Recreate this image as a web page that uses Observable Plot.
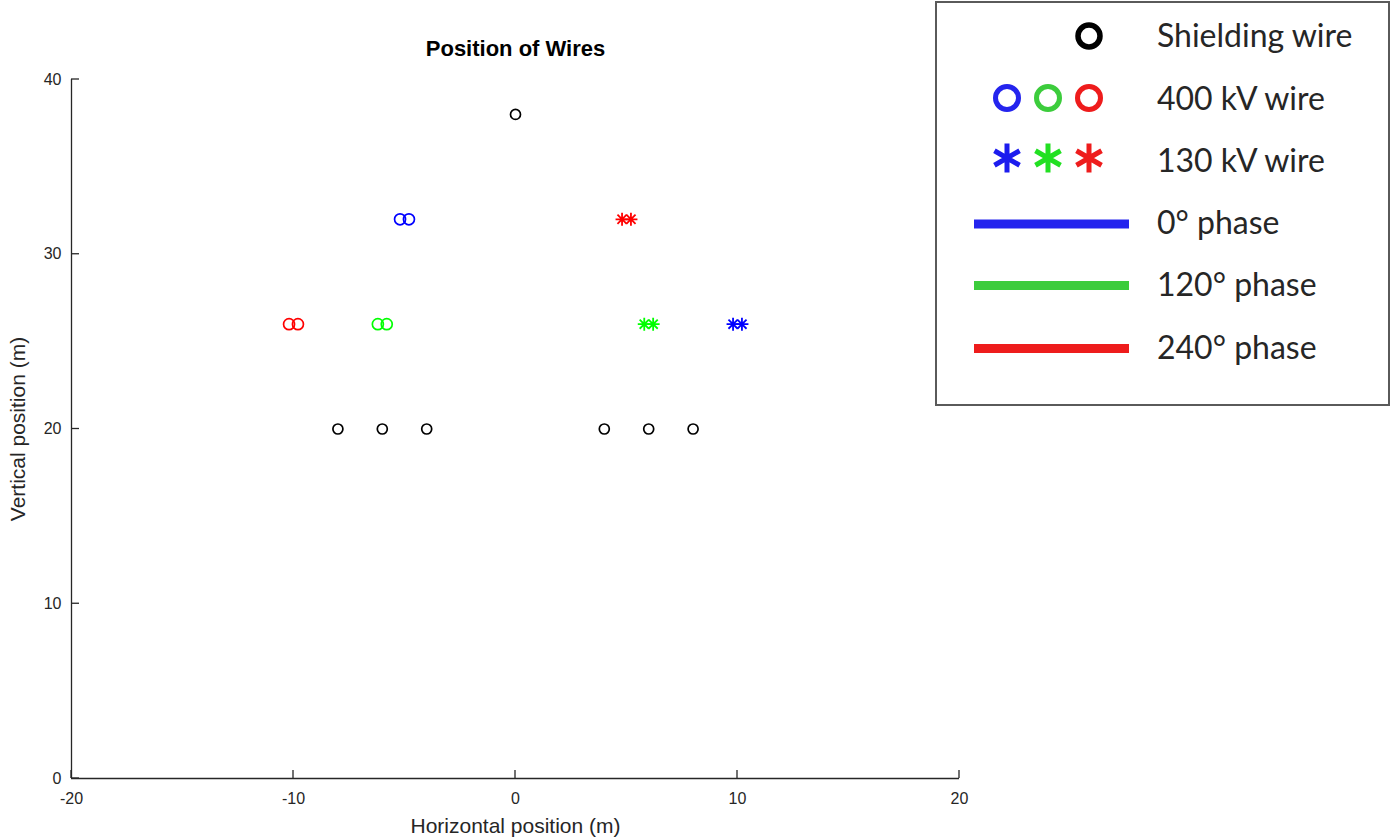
<!DOCTYPE html>
<html>
<head>
<meta charset="utf-8">
<script src="https://cdn.jsdelivr.net/npm/d3@7"></script>
<script src="https://cdn.jsdelivr.net/npm/@observablehq/plot@0.6"></script>
<style>
  html, body { margin: 0; padding: 0; background: #fff; }
  #wrap { position: relative; width: 1393px; height: 839px; overflow: hidden; }
  #legend { position: absolute; left: 935px; top: 1px; width: 451px; height: 401px;
            border: 2px solid #5a5a5a; background: #fff; }
  #legend svg { position: absolute; left: 0; top: 0; }
  .lt { font-family: Lato, "Open Sans", sans-serif; font-size: 32px; fill: #262626; }
</style>
</head>
<body>
<div id="wrap"></div>
<script>
// ---- data ----
const titleText = "Position of Wires";
const xLabel = "Horizontal position (m)";
const yLabel = "Vertical position (m)";
const xTicks = [-20, -10, 0, 10, 20];
const yTicks = [0, 10, 20, 30, 40];
const phases = ["0°", "120°", "240°"];
const phaseColors = ["#0000ff", "#00ff00", "#ff0000"];

const shieldX = [0, -8, -6, -4, 4, 6, 8];
const shieldY = [38, 20, 20, 20, 20, 20, 20];

const w400X = [-5.2, -4.8, -6.2, -5.8, -10.2, -9.8];
const w400Y = [32, 32, 26, 26, 26, 26];
const w400Phase = ["0°", "0°", "120°", "120°", "240°", "240°"];

const w130X = [9.8, 10.2, 5.8, 6.2, 4.8, 5.2];
const w130Y = [26, 26, 26, 26, 32, 32];
const w130Phase = ["0°", "0°", "120°", "120°", "240°", "240°"];

const legendLabels = ["Shielding wire", "400 kV wire", "130 kV wire", "0° phase", "120° phase", "240° phase"];

// ---- tables ----
const shield = shieldX.map((x, i) => ({x, y: shieldY[i]}));
const wires400 = w400X.map((x, i) => ({x, y: w400Y[i], phase: w400Phase[i]}));
const wires130 = w130X.map((x, i) => ({x, y: w130Y[i], phase: w130Phase[i]}));

const asterisk = {
  draw(context, size) {
    const r = Math.sqrt(size / Math.PI);
    for (const a of [0, Math.PI / 4, Math.PI / 2, 3 * Math.PI / 4]) {
      const c = Math.cos(a) * r, s = Math.sin(a) * r;
      context.moveTo(c, s);
      context.lineTo(-c, -s);
    }
  }
};

const axisColor = "#262626";
const fmt = d => String(d);

// inward tick marks drawn through the plot's own scales
function inwardTicks(index, scales) {
  const {x, y} = scales;
  const g = d3.create("svg:g").attr("stroke", axisColor).attr("stroke-width", 1.3);
  const [x0] = x.domain ? x.domain() : [-20];
  for (const v of xTicks) {
    g.append("line").attr("x1", x(v)).attr("x2", x(v)).attr("y1", y(yTicks[0])).attr("y2", y(yTicks[0]) - 8);
  }
  for (const v of yTicks) {
    g.append("line").attr("y1", y(v)).attr("y2", y(v)).attr("x1", x(xTicks[0])).attr("x2", x(xTicks[0]) + 8);
  }
  return g.node();
}

const chart = Plot.plot({
  width: 1393,
  height: 839,
  marginLeft: 71,
  marginRight: 434,
  marginTop: 79,
  marginBottom: 61,
  style: {fontFamily: '"Liberation Sans", Arial, sans-serif', fontSize: "16px", color: axisColor, background: "#fff"},
  x: {domain: [-20, 20], ticks: xTicks, label: null},
  y: {domain: [0, 40], ticks: yTicks, label: null},
  color: {domain: phases, range: phaseColors},
  marks: [
    Plot.ruleY([0], {stroke: axisColor, strokeWidth: 1.3}),
    Plot.ruleX([-20], {stroke: axisColor, strokeWidth: 1.3}),
    inwardTicks,
    Plot.axisX({ticks: xTicks, tickSize: 0, tickPadding: 14, tickFormat: fmt, fill: axisColor, fontSize: 16, label: null}),
    Plot.axisY({ticks: yTicks, tickSize: 0, tickPadding: 10, tickFormat: fmt, fill: axisColor, fontSize: 16, label: null}),
    Plot.text([titleText], {frameAnchor: "top", lineAnchor: "middle", dy: -31, fontWeight: "bold", fontSize: 22, fill: "#000"}),
    Plot.text([xLabel], {frameAnchor: "bottom", lineAnchor: "middle", dy: 48, fontSize: 21, fill: axisColor}),
    Plot.text([yLabel], {frameAnchor: "left", textAnchor: "middle", dx: -53, rotate: -90, fontSize: 21, fill: axisColor}),
    Plot.dot(shield, {x: "x", y: "y", r: 5, stroke: "#000", fill: "none", strokeWidth: 1.7}),
    Plot.dot(wires400, {x: "x", y: "y", r: 5.5, stroke: "phase", fill: "none", strokeWidth: 1.7}),
    Plot.dot(wires130, {x: "x", y: "y", r: 6.5, symbol: asterisk, stroke: "phase", fill: "none", strokeWidth: 1.8})
  ]
});

const wrap = document.getElementById("wrap");
wrap.appendChild(chart);

// ---- legend ----
const legColors = ["#2424ee", "#3ccc3c", "#ee1c1c"];
const starColors = ["#1c1cee", "#22e022", "#ee1c1c"];
const leg = document.createElement("div");
leg.id = "legend";
const svg = d3.create("svg").attr("width", 451).attr("height", 401);
const rowsY = [33, 96, 158, 220, 282, 345];
const symX = [70, 111, 152];
// shielding
svg.append("circle").attr("cx", 152).attr("cy", 33).attr("r", 11).attr("fill", "none").attr("stroke", "#000").attr("stroke-width", 5.5);
// 400 kV
symX.forEach((x, i) => svg.append("circle").attr("cx", x).attr("cy", 95).attr("r", 11.5).attr("fill", "none").attr("stroke", legColors[i]).attr("stroke-width", 5));
// 130 kV (six-armed asterisks)
symX.forEach((x, i) => {
  const p = d3.path();
  const r = 14.5;
  for (const a of [90, 30, -30]) {
    const t = a * Math.PI / 180;
    p.moveTo(x + Math.cos(t) * r, 155 + Math.sin(t) * r);
    p.lineTo(x - Math.cos(t) * r, 155 - Math.sin(t) * r);
  }
  svg.append("path").attr("d", p.toString()).attr("stroke", starColors[i]).attr("stroke-width", 5).attr("fill", "none");
});
// phase lines
const lineY = [221, 282.5, 345.5];
legColors.forEach((c, i) => svg.append("line").attr("x1", 37).attr("x2", 192).attr("y1", lineY[i]).attr("y2", lineY[i]).attr("stroke", c).attr("stroke-width", 9));
legendLabels.forEach((t, i) => svg.append("text").attr("class", "lt").attr("x", 220).attr("y", rowsY[i]).attr("dy", "0.35em").text(t));
leg.appendChild(svg.node());
wrap.appendChild(leg);
</script>
</body>
</html>
